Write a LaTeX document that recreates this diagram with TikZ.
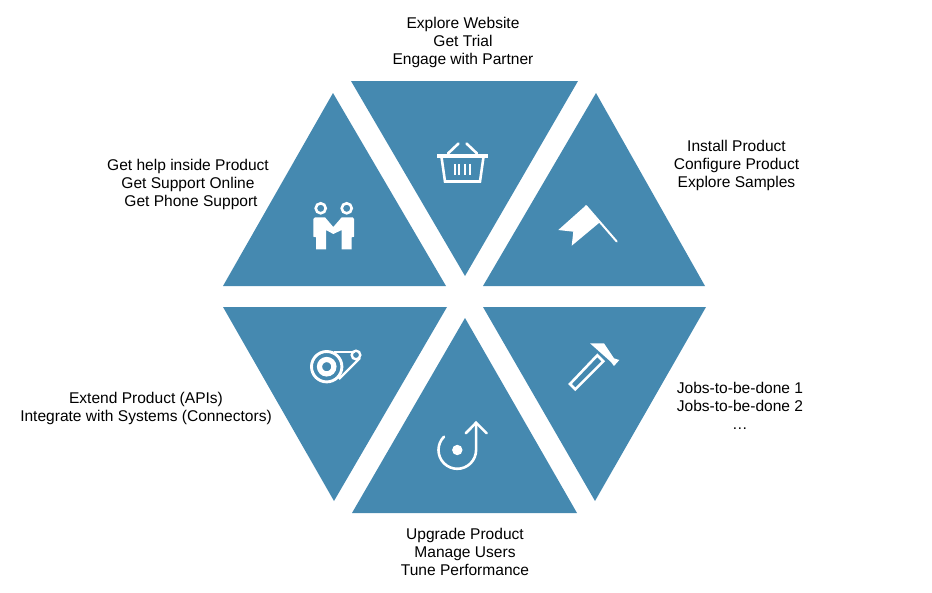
\documentclass[tikz,border=0pt]{standalone}
\usepackage{fontspec}
\setmainfont{Liberation Sans}
\definecolor{tri}{HTML}{4589B0}
\tikzset{
  x=1pt,y=-1pt,
  wedge/.style={fill=tri,draw=none},
  glyph/.style={fill=white,draw=none},
  strokeglyph/.style={draw=white,line width=2.6pt,fill=none},
  lab/.style={align=center,inner sep=0pt,text=black,font=\fontsize{15.55}{18}\selectfont,anchor=center},
}
\begin{document}
\begin{tikzpicture}
\useasboundingbox (0,0) rectangle (932,592);
% triangles
\fill[wedge] (351,81) -- (578,81) -- (465,276) -- cycle;
\fill[wedge] (596,93) -- (705,286) -- (483,286) -- cycle;
\fill[wedge] (333,93) -- (446,286) -- (223,286) -- cycle;
\fill[wedge] (223,307) -- (447,307) -- (334,501) -- cycle;
\fill[wedge] (465,318) -- (577,513) -- (352,513) -- cycle;
\fill[wedge] (483,307) -- (706,307) -- (595,501) -- cycle;
% labels
\node[lab] (top) at (463,42.5) {Explore Website\\Get Trial\\Engage with Partner};
\node[lab] (topright) at (736.5,165.5) {Install Product\\Configure Product\\Explore Samples};
\node[lab] (topleft) at (188,184.5) {Get help inside Product\\Get Support Online\\\hspace*{6pt}Get Phone Support};
\node[lab] (botleft) at (146,408.5) {Extend Product (APIs)\\Integrate with Systems (Connectors)};
\node[lab] (bottom) at (465,552) {Upgrade Product\\Manage Users\\Tune Performance};
\node[lab] (botright) at (740,406) {Jobs-to-be-done 1\\Jobs-to-be-done 2\\…};
% basket
\fill[glyph] (437,153.5) rectangle (487.5,157.5);
\draw[strokeglyph,line cap=round] (448,153.5) -- (458.5,143.5);
\draw[strokeglyph,line cap=round] (477,153.5) -- (466.5,143.5);
\draw[strokeglyph] (441.5,157) -- (445,181.5) -- (480,181.5) -- (483.5,157);
\foreach \bx in {455,459.3,465,470}
  \draw[white,line width=1.8pt] (\bx,164) -- (\bx,175);
% flag
\fill[glyph] (558.3,230) -- (586,205.3) -- (599.3,222.7) -- (571.7,245.7) -- (573.3,231.7) -- cycle;
\draw[strokeglyph,line cap=round,line width=2pt] (586,206) -- (616.7,241.5);
% people
\draw[strokeglyph] (320.7,208.3) circle (5);
\draw[strokeglyph] (346.7,208.3) circle (5);
\fill[glyph] (313.3,219) -- (315,217.3) -- (325,217.3) -- (333.3,227) -- (341.7,217.3) -- (352.7,217.3) -- (354,219) -- (354,236.7) -- (351.7,237.3) -- (351.7,249.3) -- (341.7,249.3) -- (341.7,230) -- (333.3,234) -- (326,230) -- (326,249.3) -- (316,249.3) -- (316,237.3) -- (313.3,236.7) -- cycle;
% wheel
\draw[strokeglyph,line width=2.9pt] (326.7,366.7) circle (15.2);
\draw[strokeglyph,line width=5.2pt] (326.7,366.7) circle (7.2);
\draw[strokeglyph,line width=2.4pt] (356,355) circle (4.3);
\draw[strokeglyph,line width=2.4pt] (334,352) -- (355,352);
\draw[strokeglyph,line width=2.4pt] (339,379) -- (360,358);
% upgrade arrow
\fill[glyph] (457.3,450) circle (5.2);
\draw[strokeglyph,line cap=round] (444,436.7) arc[start angle=225,end angle=0,radius=18.8] -- (476.1,423);
\draw[strokeglyph,line cap=round,line join=miter] (465.7,433.3) -- (476.1,422.7) -- (486.7,433.3);
% hammer
\fill[glyph] (590,343.3) -- (604,343.3) -- (614,358.3) -- (619.3,360) -- (614,366) -- (610.7,361.7) -- cycle;
\draw[strokeglyph,line join=miter] (597.3,355.3) -- (603.3,361.3) -- (575.3,389.3) -- (570,384) -- cycle;
\end{tikzpicture}
\end{document}
